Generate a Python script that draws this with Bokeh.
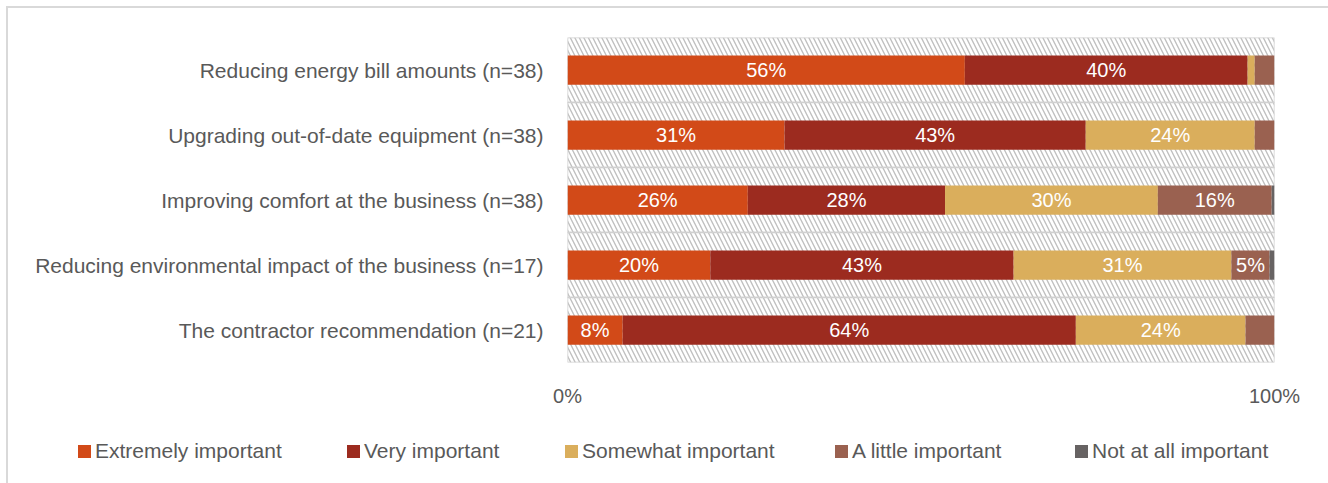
from bokeh.plotting import figure
from bokeh.layouts import column
from bokeh.models import ColumnDataSource, Range1d, FactorRange, FixedTicker, PrintfTickFormatter, Div
from bokeh.embed import file_html
from bokeh.resources import INLINE
from bokeh.core.properties import value

categories = [
    "Reducing energy bill amounts (n=38)",
    "Upgrading out-of-date equipment (n=38)",
    "Improving comfort at the business (n=38)",
    "Reducing environmental impact of the business (n=17)",
    "The contractor recommendation (n=21)",
]
series_names = ["Extremely important", "Very important", "Somewhat important",
                "A little important", "Not at all important"]
extremely = [56.2, 30.7, 25.5, 20.2, 7.8]
very = [40.0, 42.6, 27.9, 42.9, 64.1]
somewhat = [1.0, 23.9, 30.1, 30.8, 24.0]
little = [2.8, 2.8, 16.1, 5.4, 4.1]
not_at_all = [0.0, 0.0, 0.4, 0.7, 0.0]
tick_values = [0, 100]

colors = ["#D24A18", "#9C2B1F", "#DAAE5C", "#9A6150", "#676363"]
keys = ["extremely", "very", "somewhat", "little", "not_at_all"]
series = [extremely, very, somewhat, little, not_at_all]

data = {"cat": categories, "full": [100] * len(categories)}
for k, s in zip(keys, series):
    data[k] = s
source = ColumnDataSource(data)

# label table
lx, ly, lt = [], [], []
for i, c in enumerate(categories):
    left = 0.0
    for s in series:
        v = s[i]
        if round(v) >= 5:
            lx.append(left + v / 2)
            ly.append(c)
            lt.append(f"{round(v)}%")
        left += v
label_src = ColumnDataSource(dict(x=lx, y=ly, t=lt))

font = "Liberation Sans"
text_col = "#595959"
fs = "20px"

p = figure(
    width=1320, height=410,
    x_range=Range1d(0, 100),
    y_range=FactorRange(*categories[::-1], range_padding=0),
    output_backend="svg", toolbar_location=None,
    min_border_left=559, min_border_right=54,
    min_border_top=29, min_border_bottom=56,
)
p.outline_line_color = None
p.xgrid.grid_line_color = None
p.ygrid.grid_line_color = None

# hatched background per category
p.hbar(y="cat", left=0, right="full", height=1.0, source=source,
       fill_color="white", line_color="#d0d0d0", line_width=1.5,
       hatch_pattern="\\", hatch_color="#c0c0c0", hatch_scale=9, hatch_weight=1.4)

p.hbar_stack(keys, y="cat", height=0.45, color=colors, source=source, line_width=0)

p.text(x="x", y="y", text="t", source=label_src, text_align="center",
       text_baseline="middle", text_color="white", text_font_size=fs,
       text_font=value(font))

p.yaxis.axis_line_color = None
p.yaxis.major_tick_line_color = None
p.yaxis.minor_tick_line_color = None
p.yaxis.major_tick_out = 0
p.yaxis.major_label_text_font_size = "21px"
p.yaxis.major_label_text_color = text_col
p.yaxis.major_label_text_font = font
p.yaxis.major_label_standoff = 24

p.xaxis.ticker = FixedTicker(ticks=tick_values)
p.xaxis.formatter = PrintfTickFormatter(format="%d%%")
p.xaxis.axis_line_color = None
p.xaxis.major_tick_line_color = None
p.xaxis.minor_tick_line_color = None
p.xaxis.major_tick_out = 0
p.xaxis.major_label_text_font_size = fs
p.xaxis.major_label_text_color = text_col
p.xaxis.major_label_text_font = font
p.xaxis.major_label_standoff = 22

# legend as HTML (kept outside the plot frame so it is not clipped)
item_left = [65, 334, 552, 822, 1062]
parts = []
for name, c, lft in zip(series_names, colors, item_left):
    parts.append(
        f'<div style="position:absolute;left:{lft}px;top:17px;display:flex;align-items:center;'
        f'white-space:nowrap;font-family:\'{font}\';font-size:21px;color:{text_col};line-height:22px;">'
        f'<span style="display:inline-block;width:13px;height:13px;background:{c};margin-right:4px;"></span>'
        f'{name}</div>'
    )
legend_div = Div(text="".join(parts), width=1320, height=65,
                 styles={"position": "relative"})

layout = column(p, legend_div, spacing=0, margin=(6, 0, 0, 6),
                styles={"border-top": "2px solid #d9d9d9", "border-left": "2px solid #d9d9d9"})

open("out.html", "w").write(file_html(layout, INLINE))
